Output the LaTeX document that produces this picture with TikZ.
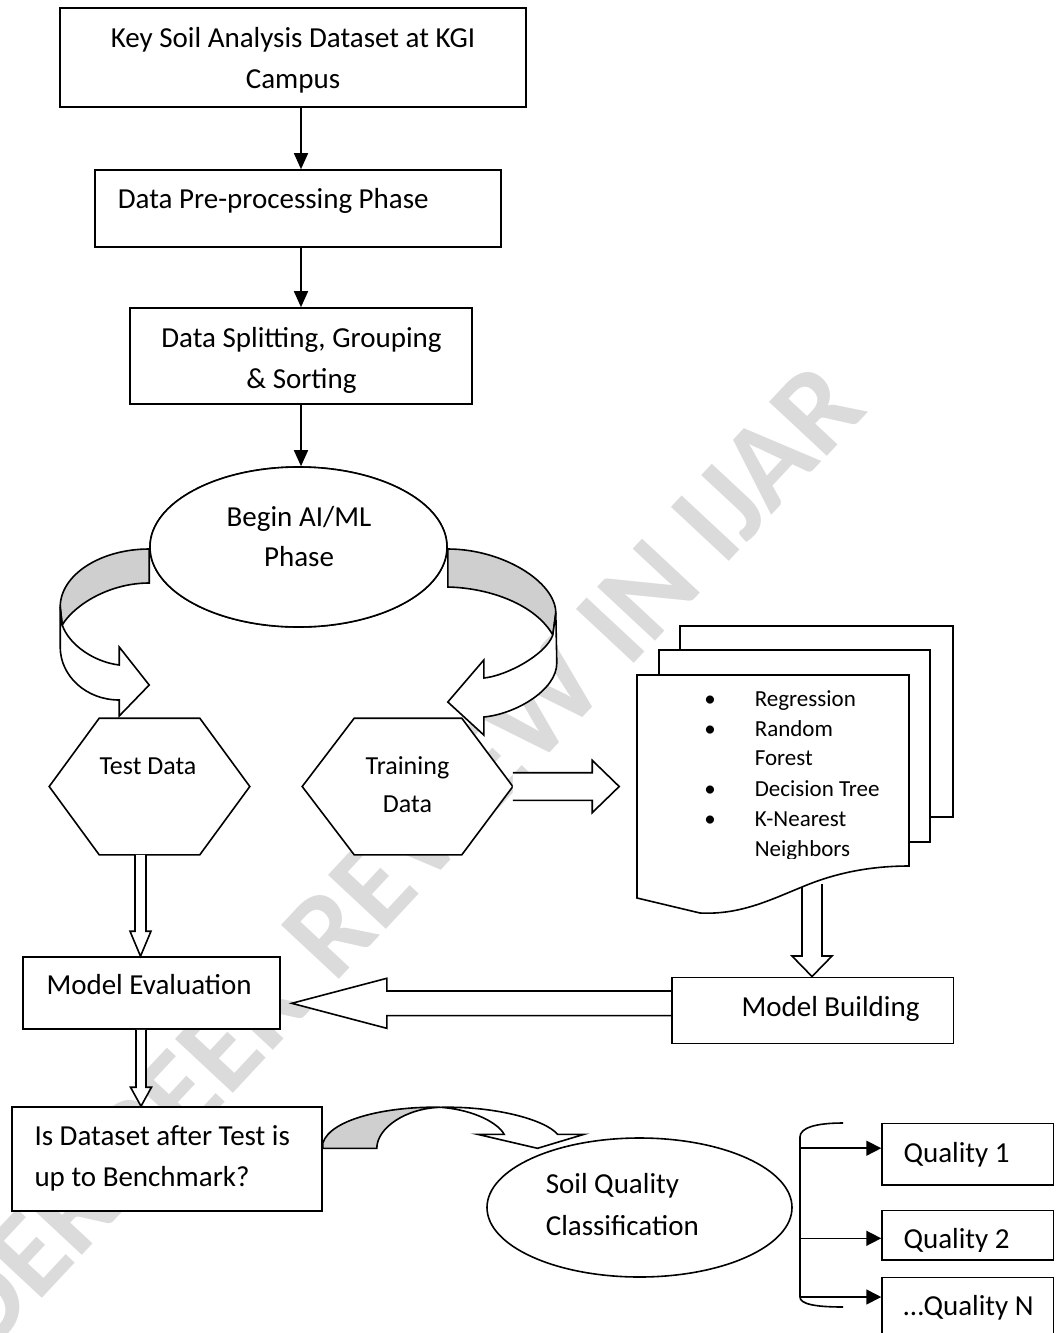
\documentclass[tikz,border=0pt]{standalone}
\usepackage{fontspec}
\setmainfont{Carlito}
\usetikzlibrary{arrows.meta,calc,shapes.geometric}
\newcommand\vblk[5]{%
 \draw[block] let \p1=(#1), \p2=(#2) in (\x1-#3pt,\y1) -- (\x1-#3pt,\y2+#5pt) -- (\x1-#4pt,\y2+#5pt) -- (\x1,\y2) -- (\x1+#4pt,\y2+#5pt) -- (\x1+#3pt,\y2+#5pt) -- (\x1+#3pt,\y1);}
\newcommand\hblk[5]{%
 \draw[block] let \p1=(#1), \p2=(#2) in (\x1,\y1+#3pt) -- (\x2-#5pt,\y1+#3pt) -- (\x2-#5pt,\y1+#4pt) -- (\x2,\y1) -- (\x2-#5pt,\y1-#4pt) -- (\x2-#5pt,\y1-#3pt) -- (\x1,\y1-#3pt);}
\begin{document}
\begin{tikzpicture}[x=1pt,y=-1pt,
  line width=1.6pt, line join=miter,
  box/.style={draw, rectangle, inner sep=0pt, fill=white},
  ghost/.style={rectangle, inner sep=0pt},
  txt/.style={font=\fontsize{29}{35}\selectfont, inner sep=0pt},
  stxt/.style={font=\fontsize{26}{31}\selectfont, inner sep=0pt},
  btxt/.style={font=\fontsize{23}{28}\selectfont, inner sep=0pt},
  arr/.style={-{Triangle[length=16pt,width=14pt]}},
  qarr/.style={-{Triangle[length=15pt,width=15pt]}},
  block/.style={draw, fill=white},
  band/.style={draw, fill=black!19},
  page/.style={draw, fill=white},
  wmark/.style={rotate=47, anchor=base, inner sep=0pt, text=black!14, font=\bfseries\fontsize{122}{122}\selectfont},
]
\path[use as bounding box] (0,0) rectangle (1060,1333);
\clip (0,0) rectangle (1060,1333);

% ---------- watermark ----------
\node[wmark] (wm) at (628,670) {\llap{UNDER PEER REVIEW }\rlap{IN IJAR}};

% ---------- top boxes ----------
\node[box, minimum width=466, minimum height=99] (box1) at (293,57.5) {};
\node[txt, anchor=base] (t1a) at (293,47) {Key Soil Analysis Dataset at KGI};
\node[txt, anchor=base] (t1b) at (293,88) {Campus};

\node[box, minimum width=406, minimum height=77] (box2) at (298,208.5) {};
\node[txt, anchor=base west] (t2) at (117,208) {Data Pre-processing Phase};

\node[box, minimum width=342, minimum height=96] (box3) at (301,356) {};
\node[txt, anchor=base] (t3a) at (301.5,347) {Data Splitting, Grouping};
\node[txt, anchor=base] (t3b) at (301.5,388) {\& Sorting};

\draw[arr] (box1.south -| box3.north) -- (box2.north -| box3.north);
\draw[arr] (box2.south -| box3.north) -- (box3.north);

% ---------- AI/ML ellipse with curved arrows ----------
\node[draw, ellipse, inner sep=0pt, minimum width=297, minimum height=160] (ai) at (298.5,547) {};
\draw[arr] (box3.south) -- (box3.south |- ai.north);

\begin{scope}[shift={(ai.west)}]
 \draw[band] (0,2) .. controls (-49,2) and (-89,28) .. (-89,60) -- (-87,78)
   .. controls (-75,58) and (-40,36) .. (0,36) -- cycle;
 \draw[block] (-89,60) -- (-89,100) .. controls (-89,129) and (-63,153) .. (-30,153)
   -- (-30,169) -- (0,138) -- (-30,100) -- (-30,118)
   .. controls (-55,115) and (-80,98) .. (-87,78) -- cycle;
\end{scope}
\begin{scope}[shift={(ai.east)}]
 \draw[band] (0,2) .. controls (55,2) and (108,35) .. (108,66) -- (105,88)
   .. controls (88,58) and (43,41) .. (0,40) -- cycle;
 \draw[block] (108,66) -- (109,116) .. controls (109,143) and (68,167) .. (36,170)
   -- (36,188) -- (0,155) -- (36,113) -- (36,131)
   .. controls (58,129) and (98,108) .. (105,88) -- cycle;
\end{scope}
\node[draw, ellipse, inner sep=0pt, minimum width=297, minimum height=160, fill=white] (ai2) at (ai) {};
\node[txt, anchor=base] (tai1) at (299,526) {Begin AI/ML};
\node[txt, anchor=base] (tai2) at (299,566) {Phase};

% ---------- hexagons ----------
\node[ghost, minimum width=199, minimum height=135] (test) at (149.5,786.5) {};
\draw[fill=white] (test.west) -- ([xshift=50]test.north west) -- ([xshift=-50]test.north east)
  -- (test.east) -- ([xshift=-50]test.south east) -- ([xshift=50]test.south west) -- cycle;
\node[stxt, anchor=base] (ttest) at (148,774) {Test Data};

\node[ghost, minimum width=209, minimum height=135] (train) at (407.5,786.5) {};
\draw[fill=white] (train.west) -- ([xshift=52]train.north west) -- ([xshift=-51]train.north east)
  -- (train.east) -- ([xshift=-51]train.south east) -- ([xshift=52]train.south west) -- cycle;
\node[stxt, anchor=base] (ttr1) at (407.5,774) {Training};
\node[stxt, anchor=base] (ttr2) at (407.5,812) {Data};

% ---------- document stack ----------
\node[ghost, minimum width=272, minimum height=238] (docs) at (773,794) {};
\coordinate (docb) at (812,884);
\node[box, minimum width=281.6, minimum height=66] (mb) at (812.5,1010.3) {};
\vblk{docb}{mb.north}{10}{20}{20.5}
\draw[page] (680,626) rectangle (953,817);
\draw[page] (659,650) rectangle (930,842);
\draw[page] (637,898) -- (637,675) -- (909,675) -- (909,866)
  .. controls (870,866) and (835,873) .. (802,887)
  .. controls (770,900) and (740,915) .. (700,913) -- cycle;
\foreach \y in {706,736,796,826} \node[btxt, anchor=base] (bu\y) at (710,\y) {•};
\node[btxt, anchor=base west] (l1) at (754,706) {Regression};
\node[btxt, anchor=base west] (l2) at (754,736) {Random};
\node[btxt, anchor=base west] (l3) at (754,765) {Forest};
\node[btxt, anchor=base west] (l4) at (754,796) {Decision Tree};
\node[btxt, anchor=base west] (l5) at (754,826) {K-Nearest};
\begin{scope}
 \clip (700,830) rectangle (900,858);
 \node[btxt, anchor=base west] (l6) at (754,856) {Neighbors};
\end{scope}

\hblk{train.east}{[xshift=-17pt]docs.west}{13.8}{26.2}{27}

% ---------- evaluation ----------
\node[box, minimum width=257, minimum height=72] (eval) at (151.5,993) {};
\node[txt, anchor=base west] (teval) at (45.7,994) {Model Evaluation};
\vblk{[xshift=-9pt]test.south}{eval.north}{5.5}{10.5}{25}

\node[txt, anchor=base west] (tmb) at (740.7,1016.7) {Model Building};
\hblk{[yshift=7pt]mb.west}{[xshift=11pt]eval.east}{12.3}{25}{-95}

\node[box, minimum width=310, minimum height=104] (isd) at (167,1159) {};
\node[txt, anchor=base west] (tis1) at (33.7,1145) {Is Dataset after Test is};
\node[txt, anchor=base west] (tis2) at (33.7,1186) {up to Benchmark?};
\vblk{[xshift=-10.5pt]eval.south}{isd.north}{5}{10.5}{19}

% ---------- soil quality ----------
\node[draw, ellipse, inner sep=0pt, minimum width=305, minimum height=139, fill=white] (soil) at (639.5,1207.5) {};
\node[txt, anchor=base west] (ts1) at (545,1193) {Soil Quality};
\node[txt, anchor=base west] (ts2) at (545,1235) {Classification};

\begin{scope}[shift={(isd.east)}]
 \draw[band] (0,-10.7) -- (54,-10.7) .. controls (54,-31) and (83,-51) .. (118,-51.7)
   .. controls (68,-53) and (8,-41) .. (0,-16) -- cycle;
 \draw[block] (118,-51.7) .. controls (173,-53) and (223,-39) .. (234.7,-24.7)
   -- (261.3,-24.7) -- (214.7,-10.7) -- (154.7,-24.7) -- (181.3,-24.7)
   .. controls (176,-35) and (153,-49) .. (118,-51.7) -- cycle;
\end{scope}

% ---------- quality boxes ----------
\node[box, minimum width=171.3, minimum height=61.7] (q1) at (967.7,1154.2) {};
\node[box, minimum width=171.3, minimum height=49.3] (q2) at (967.7,1235.3) {};
\node[box, minimum width=171.3, minimum height=67.4] (qn) at (967.7,1311) {};
\node[txt, anchor=base west] (tq1) at (902.7,1162) {Quality 1};
\begin{scope}
 \clip (890,1214) rectangle (1050,1251);
 \node[txt, anchor=base west] (tq2) at (902.7,1248) {Quality 2};
\end{scope}
\node[txt, anchor=base west] (tqn) at (902.7,1315) {…Quality N};

\coordinate (brk) at (800,1137);
\draw (843,1123) .. controls (815,1123) and (800,1128) .. (brk) -- (800,1297)
  .. controls (800,1304) and (815,1307) .. (843,1307);
\draw[qarr] ([yshift=6pt]q1.west -| brk) -- ([yshift=6pt]q1.west);
\draw[qarr] ([yshift=-3pt]q2.west -| brk) -- ([yshift=-3pt]q2.west);
\draw[qarr] ([yshift=14pt]qn.west -| brk) -- ([yshift=14pt]qn.west);
\end{tikzpicture}
\end{document}
